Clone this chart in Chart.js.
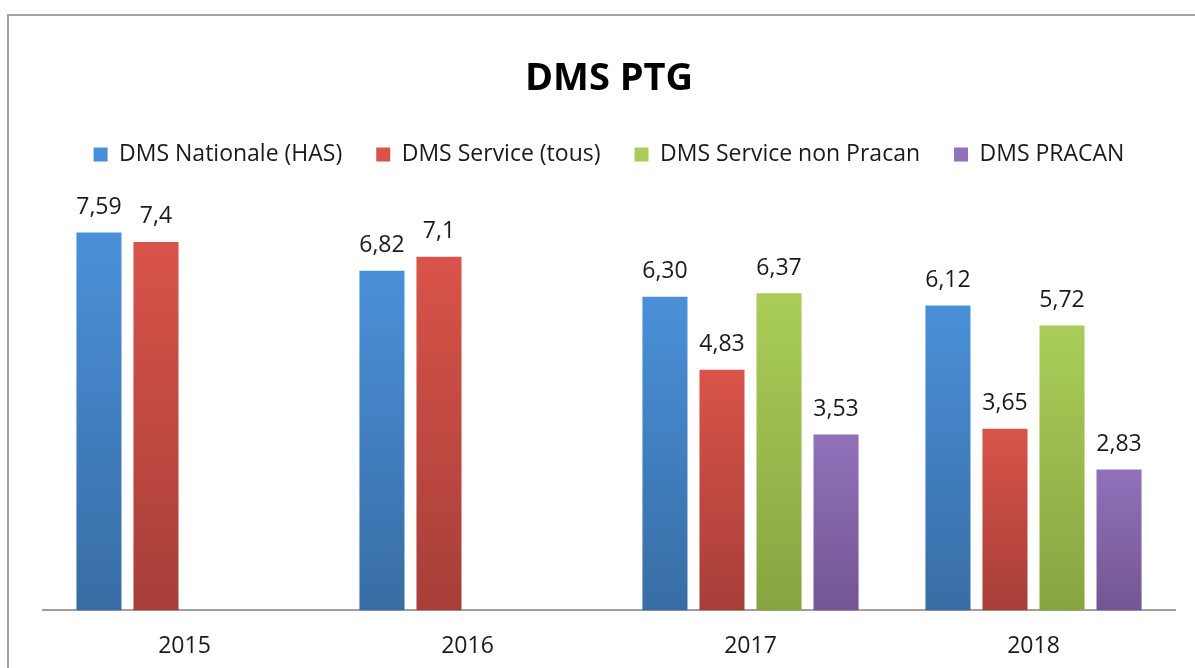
<!DOCTYPE html>
<html>
<head>
<meta charset="utf-8">
<script src="https://cdn.jsdelivr.net/npm/chart.js@4.4.0/dist/chart.umd.min.js"></script>
<style>
body { margin: 0; background: #fff; overflow: hidden; }
#cadre { position: absolute; left: 7px; top: 14px; width: 1210px; height: 700px;
  border-left: 2px solid #a3a3a3; border-top: 2px solid #a3a3a3; }
#grafico { display: block; }
</style>
</head>
<body>
<div id="cadre"><canvas id="grafico" width="1200" height="675"></canvas></div>
<script>
const annees = ['2015', '2016', '2017', '2018'];
const dmsNationale = [7.59, 6.82, 6.30, 6.12];
const dmsService = [7.4, 7.1, 4.83, 3.65];
const dmsNonPracan = [null, null, 6.37, 5.72];
const dmsPracan = [null, null, 3.53, 2.83];
// textes affichés au-dessus des barres
const texteNationale = ['7,59', '6,82', '6,30', '6,12'];
const texteService = ['7,4', '7,1', '4,83', '3,65'];
const texteNonPracan = ['', '', '6,37', '5,72'];
const textePracan = ['', '', '3,53', '2,83'];

const police = "'Open Sans', sans-serif";

function degrade(haut, bas) {
    return (ctx) => {
        const chart = ctx.chart;
        if (ctx.type !== 'data' || !chart.chartArea || ctx.raw == null) return haut;
        const y = chart.scales.y;
        const g = chart.ctx.createLinearGradient(0, y.getPixelForValue(ctx.raw), 0, y.getPixelForValue(0));
        g.addColorStop(0, haut);
        g.addColorStop(1, bas);
        return g;
    };
}

const data = {
    labels: annees,
    datasets: [
        { label: 'DMS Nationale (HAS)', data: dmsNationale, etiquettes: texteNationale,
          backgroundColor: degrade('#4a90d9', '#386da4') },
        { label: 'DMS Service (tous)', data: dmsService, etiquettes: texteService,
          backgroundColor: degrade('#d9534a', '#a63f38') },
        { label: 'DMS Service non Pracan', data: dmsNonPracan, etiquettes: texteNonPracan,
          backgroundColor: degrade('#aacd58', '#87a541') },
        { label: 'DMS PRACAN', data: dmsPracan, etiquettes: textePracan,
          backgroundColor: degrade('#9171ba', '#745593') }
    ]
};

// étiquettes de valeur au-dessus des barres
const etiquettesBarres = {
    id: 'etiquettesBarres',
    afterDatasetsDraw(chart) {
        const c = chart.ctx;
        c.save();
        c.font = '23px ' + police;
        c.fillStyle = '#1a1a1a';
        c.textAlign = 'center';
        c.textBaseline = 'middle';
        chart.data.datasets.forEach((ds, i) => {
            chart.getDatasetMeta(i).data.forEach((bar, j) => {
                if (ds.data[j] == null) return;
                c.fillText(ds.etiquettes[j], bar.x, bar.y - 25);
            });
        });
        c.restore();
    }
};

// espace sous la légende
const espaceLegende = {
    id: 'espaceLegende',
    beforeInit(chart) {
        const fit = chart.legend.fit;
        chart.legend.fit = function () {
            fit.call(this);
            this.height += 36;
        };
    }
};

const config = {
    type: 'bar',
    data,
    options: {
        responsive: false,
        animation: false,
        categoryPercentage: 0.806,
        barPercentage: 0.79,
        layout: { padding: { left: 34, right: 34, top: 0, bottom: 9 } },
        plugins: {
            title: {
                display: true,
                text: 'DMS PTG',
                color: '#000',
                font: { family: police, size: 38, weight: 'bold', lineHeight: 1 },
                padding: { top: 44, bottom: 11 }
            },
            legend: {
                position: 'top',
                labels: {
                    color: '#1a1a1a',
                    font: { family: police, size: 23 },
                    boxWidth: 14,
                    boxHeight: 14,
                    padding: 34
                }
            },
            tooltip: { enabled: false }
        },
        scales: {
            x: {
                grid: { display: false, drawTicks: false },
                border: { display: true, color: '#a0a0a0', width: 2 },
                ticks: { color: '#1a1a1a', padding: 22, font: { family: police, size: 23 } }
            },
            y: {
                display: false,
                min: 0,
                max: 8
            }
        }
    },
    plugins: [etiquettesBarres, espaceLegende]
};

let monGraphique = new Chart(document.getElementById('grafico'), config);
</script>
</body>
</html>
